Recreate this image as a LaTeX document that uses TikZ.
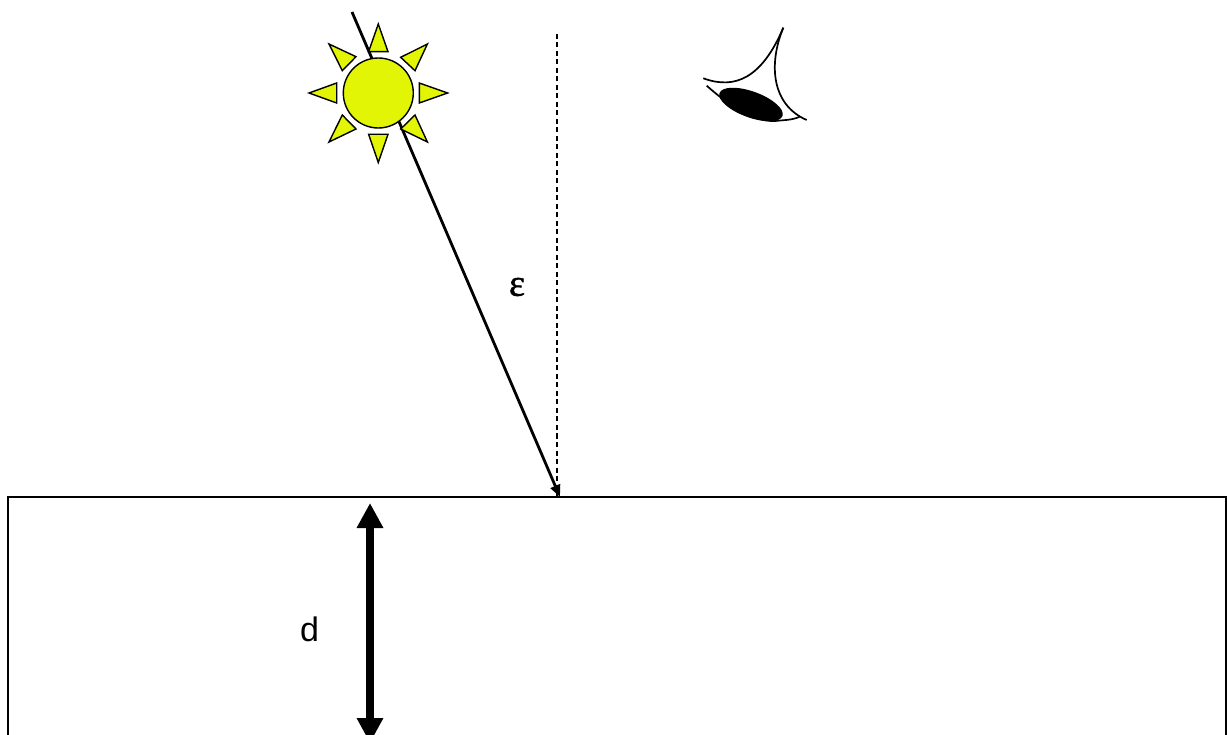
\documentclass[tikz,border=0pt]{standalone}
\usepackage{fontspec}
\setmainfont{Liberation Sans}
\newfontfamily\epsfont[FakeBold=1.2]{Liberation Serif}
\usetikzlibrary{arrows.meta}
\definecolor{sunyellow}{RGB}{226,245,5}
\tikzset{
  ray/.style={draw=black,fill=sunyellow,line width=1.4pt,line join=miter},
  lid/.style={draw=black,line width=1.7pt},
  label/.style={inner sep=0pt,font=\fontsize{34}{40}\selectfont},
}
\begin{document}
\begin{tikzpicture}[x=1pt,y=-1pt]
\useasboundingbox (0,0) rectangle (1227,735);
\clip (0,0) rectangle (1227,735);
% surface
\coordinate (surfTL) at (8,497);
\coordinate (surfTR) at (1226,497);
\coordinate (surfBL) at (8,760);
\coordinate (surfBR) at (1226,760);
\draw[line width=1.1pt] (surfBL) -- (surfTL) -- (surfTR) -- (surfBR);
% normal and ray
\coordinate (normalTop) at (557,34);
\coordinate (hit) at (557,497);
\coordinate (rayStart) at (352,12);
\coordinate (rayEnd) at (560,497);
\draw[line width=1.3pt,dash pattern=on 5pt off 3.5pt] (normalTop) -- (hit);
\draw[line width=2.8pt,-{Triangle[length=12pt,width=10pt]}] (rayStart) -- (rayEnd);
% sun
\node[circle,draw=black,fill=sunyellow,line width=1.4pt,minimum size=70pt,inner sep=0pt] (sun) at (378.3,93) {};
\draw[ray] (378.3,24) -- (388,51.7) -- (368.6,51.7) -- cycle;
\draw[ray] (378.3,162.5) -- (388,134.3) -- (368.6,134.3) -- cycle;
\draw[ray] (309,93) -- (336.7,83) -- (336.7,103) -- cycle;
\draw[ray] (447.6,93) -- (419.3,83) -- (419.3,103) -- cycle;
\draw[ray] (329,44) -- (356,56.7) -- (342.3,70.7) -- cycle;
\draw[ray] (427.4,44) -- (400.7,57.3) -- (415,70.7) -- cycle;
\draw[ray] (329,142) -- (342.3,115) -- (356,129) -- cycle;
\draw[ray] (427.4,142) -- (415,115) -- (400.7,129) -- cycle;
% eye
\draw[lid] (703.3,78.3) .. controls (735,90) and (762,78) .. (783.3,27.7);
\draw[lid] (783.3,27.7) .. controls (768,65) and (772,105) .. (806.7,120);
\draw[lid] (706.7,85.7) .. controls (725,102) and (755,125) .. (780,120.5) .. controls (788,120) and (796,119) .. (800,116.5);
\fill[black,rotate around={-20:(751,104.5)}] (751,104.5) ellipse [x radius=33.5pt,y radius=13pt];
% depth arrow
\coordinate (dTop) at (370,503);
\coordinate (dBottom) at (370,743);
\draw[line width=8pt,{Triangle[length=25pt,width=25pt]}-{Triangle[length=25pt,width=25pt]}] (dTop) -- (dBottom);
% labels
\node[label] (dlabel) at (309.5,629) {d};
\node[label] (eps) at (517,287) {\fontsize{38}{44}\selectfont\epsfont ε};
\end{tikzpicture}
\end{document}
